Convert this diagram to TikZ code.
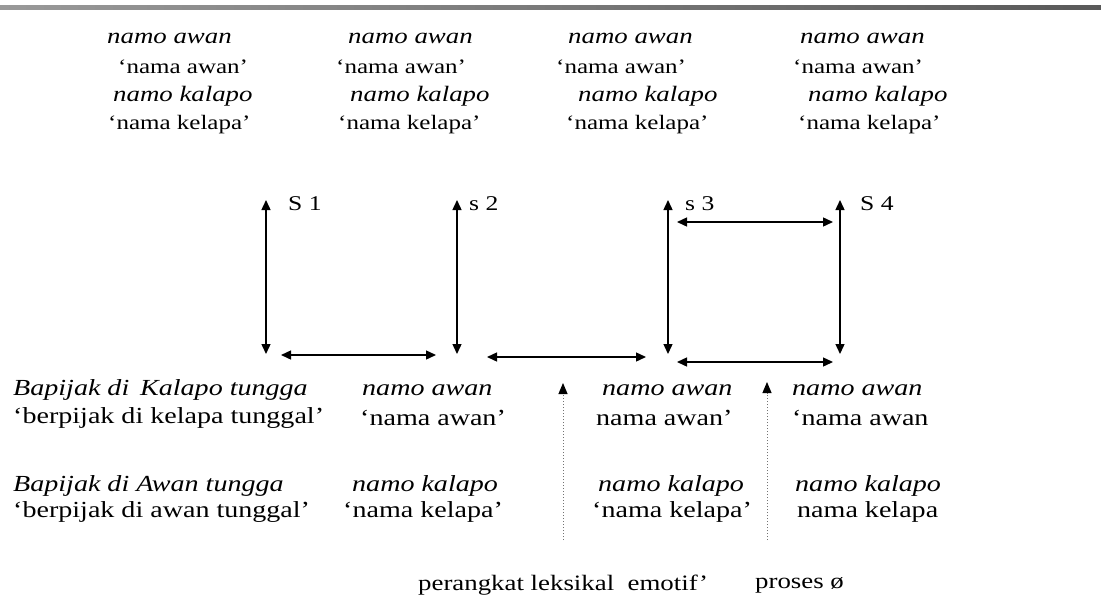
\documentclass[tikz,border=0pt]{standalone}
\usepackage{fontspec}
\setmainfont[FakeStretch=1.22]{Liberation Serif}
\usetikzlibrary{arrows.meta}
\begin{document}
\begin{tikzpicture}[x=1pt,y=-1pt,
 topr/.style={font=\fontsize{20.5}{22}\selectfont, inner sep=0pt, anchor=west},
 topi/.style={font=\fontsize{22}{24}\selectfont\itshape, inner sep=0pt, anchor=west},
 botr/.style={font=\fontsize{23}{26}\selectfont, inner sep=0pt, anchor=west},
 boti/.style={font=\fontsize{23}{26}\selectfont\itshape, inner sep=0pt, anchor=west},
 lab/.style={font=\fontsize{21}{22}\selectfont, inner sep=0pt, anchor=west},
 foot/.style={font=\fontsize{22}{24}\selectfont, inner sep=0pt, anchor=west},
 arr/.style={line width=1.4pt, {Triangle[length=10pt,width=9pt]}-{Triangle[length=10pt,width=9pt]}},
 dotarr/.style={dotted, line width=1pt, black!55, -{Triangle[length=11pt,width=9pt,black]}}
]
\useasboundingbox (0,0) rectangle (1101,600);
% top rule
\shade[left color=black!40, middle color=black!90, right color=black!65] (0,5) rectangle (1101,9);

% top text columns
\node[topi] (a1) at (107,38) {namo awan};
\node[topr] (a2) at (118,67) {`nama awan'};
\node[topi] (a3) at (113,96) {namo kalapo};
\node[topr] (a4) at (108,125) {`nama kelapa'};

\node[topi] (b1) at (348,38) {namo awan};
\node[topr] (b2) at (336,67) {`nama awan'};
\node[topi] (b3) at (350,96) {namo kalapo};
\node[topr] (b4) at (338,125) {`nama kelapa'};

\node[topi] (c1) at (568,38) {namo awan};
\node[topr] (c2) at (556,67) {`nama awan'};
\node[topi] (c3) at (578,96) {namo kalapo};
\node[topr] (c4) at (566,125) {`nama kelapa'};

\node[topi] (d1) at (800,38) {namo awan};
\node[topr] (d2) at (793,67) {`nama awan'};
\node[topi] (d3) at (808,96) {namo kalapo};
\node[topr] (d4) at (798,125) {`nama kelapa'};

% state labels
\node[lab] (S1) at (288,204) {S 1};
\node[lab] (S2) at (469,204) {s 2};
\node[lab] (S3) at (685,204) {s 3};
\node[lab] (S4) at (860,204) {S 4};

% arrow end points
\coordinate (s1t) at (266,200);
\coordinate (s1b) at (266,354);
\coordinate (s2t) at (457,200);
\coordinate (s2b) at (457,354);
\coordinate (s3t) at (668,200);
\coordinate (s3b) at (668,354);
\coordinate (s4t) at (840,200);
\coordinate (s4b) at (840,354);
\coordinate (h1l) at (281,355);
\coordinate (h1r) at (436,355);
\coordinate (h2l) at (487,357);
\coordinate (h2r) at (646,357);
\coordinate (h3l) at (677,362);
\coordinate (h3r) at (833,362);
\coordinate (h4l) at (677,222);
\coordinate (h4r) at (833,222);

\draw[arr] (s1t) -- (s1b);
\draw[arr] (s2t) -- (s2b);
\draw[arr] (s3t) -- (s3b);
\draw[arr] (s4t) -- (s4b);
\draw[arr] (h1l) -- (h1r);
\draw[arr] (h2l) -- (h2r);
\draw[arr] (h3l) -- (h3r);
\draw[arr] (h4l) -- (h4r);

% dotted arrows
\coordinate (p1b) at (563,540);
\coordinate (p1t) at (563,383);
\coordinate (p2b) at (767,540);
\coordinate (p2t) at (767,382);
\draw[dotarr] (p1b) -- (p1t);
\draw[dotarr] (p2b) -- (p2t);

% bottom text
\node[boti] (e1) at (13,390) {Bapijak di\, Kalapo tungga};
\node[botr] (e2) at (13,418) {`berpijak di kelapa tunggal'};
\node[boti] (e3) at (13,486) {Bapijak di Awan tungga};
\node[botr] (e4) at (13,512) {`berpijak di awan tunggal'};

\node[boti] (f1) at (362,390) {namo awan};
\node[botr] (f2) at (360,418) {`nama awan'};
\node[boti] (f3) at (352,486) {namo kalapo};
\node[botr] (f4) at (343,512) {`nama kelapa'};

\node[boti] (g1) at (602,390) {namo awan};
\node[botr] (g2) at (596,418) {nama awan'};
\node[boti] (g3) at (598,486) {namo kalapo};
\node[botr] (g4) at (592,512) {`nama kelapa'};

\node[boti] (k1) at (792,390) {namo awan};
\node[botr] (k2) at (792,418) {`nama awan};
\node[boti] (k3) at (795,486) {namo kalapo};
\node[botr] (k4) at (797,512) {nama kelapa};

\node[foot] (L1) at (418,585) {perangkat leksikal\ \ emotif'};
\node[foot] (L2) at (755,585) {proses ø};
\end{tikzpicture}
\end{document}
